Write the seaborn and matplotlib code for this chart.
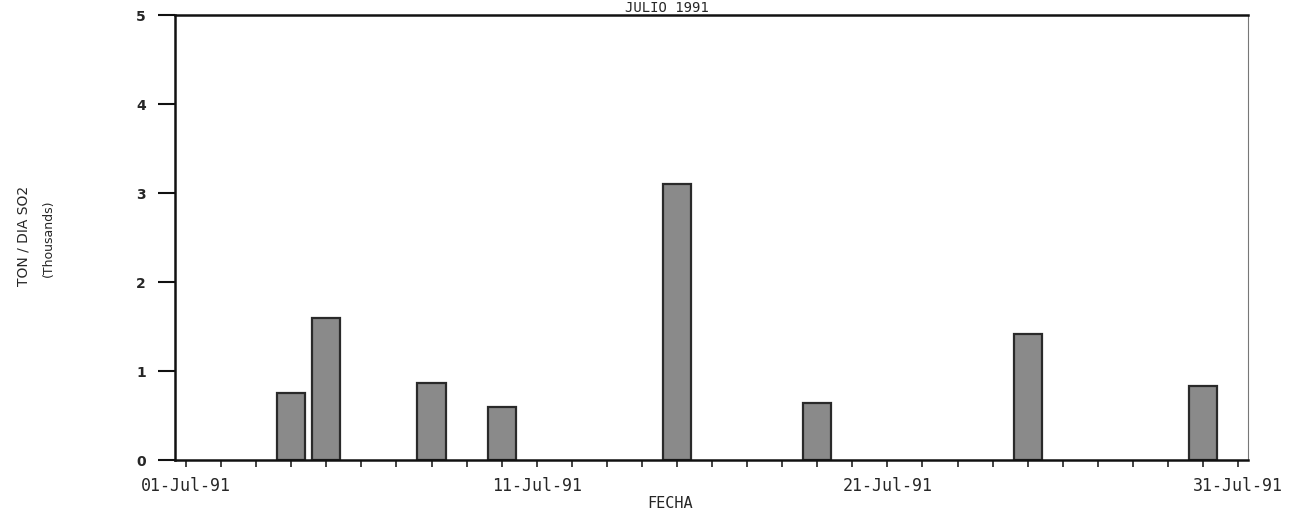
import seaborn as sns
import matplotlib.pyplot as plt
import pandas as pd

# emisiones diarias de SO2, julio 1991 (miles de ton/dia)
dias = [4, 5, 8, 10, 15, 19, 25, 30]
valores = [0.75, 1.60, 0.87, 0.60, 3.10, 0.64, 1.42, 0.83]

tick_dias = [1, 11, 21, 31]
tick_labels = ["01-Jul-91", "11-Jul-91", "21-Jul-91", "31-Jul-91"]
y_ticks = [0, 1, 2, 3, 4, 5]

df = pd.DataFrame({"dia": dias, "ton": valores})

sns.set_theme(style="white")
plt.rcParams['font.family'] = ['DejaVu Sans']

fig = plt.figure(figsize=(13.15, 5.25), dpi=100)
ax = fig.add_axes([0.1331, 0.1238, 0.8159, 0.8476])

sns.barplot(data=df, x="dia", y="ton", native_scale=True, width=0.8,
            color="#8a8a8a", edgecolor="#2a2a2a", linewidth=1.6,
            saturation=1, ax=ax)

ax.set_xlim(0.686, 31.28)
ax.set_ylim(0, 5)

# ticks de dias: cada dia, etiqueta cada 10
ax.set_xticks(tick_dias)
ax.set_xticklabels(tick_labels, family="DejaVu Sans Mono", fontsize=12)
ax.set_xticks(range(1, 32), minor=True)
ax.tick_params(axis="x", which="both", direction="out", length=5,
               width=1.2, color="#222222", pad=7, bottom=True)

ax.set_yticks(y_ticks)
ax.set_yticklabels([str(t) for t in y_ticks], fontsize=10, fontweight="bold")
ax.tick_params(axis="y", direction="out", length=12, width=1.5,
               color="#111111", pad=9, left=True)

for side in ["left", "top", "bottom"]:
    ax.spines[side].set_color("#111111")
    ax.spines[side].set_linewidth(1.8)
ax.spines["right"].set_color("#777777")
ax.spines["right"].set_linewidth(0.8)

ax.set_xlabel("")
ax.set_ylabel("")

fig.text(670 / 1315, 1 - 504 / 525, "FECHA", family="DejaVu Sans Mono",
         fontsize=11, ha="center", va="center")
fig.text(24 / 1315, 1 - 236 / 525, "TON / DIA SO2", rotation=90,
         fontsize=10, ha="center", va="center")
fig.text(48 / 1315, 1 - 238 / 525, "(Thousands)", rotation=90,
         fontsize=9, ha="center", va="center")
fig.text(667 / 1315, 1 - 1 / 525, "JULIO 1991", family="DejaVu Sans Mono",
         fontsize=10, ha="center", va="top")

fig.savefig("out.png", dpi=100)
